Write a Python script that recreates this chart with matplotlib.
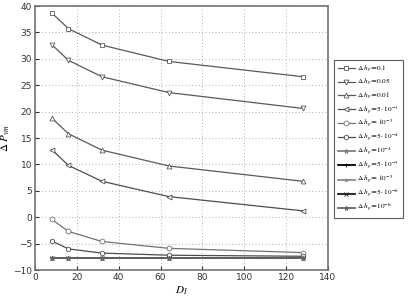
import matplotlib
matplotlib.use("Agg")
import matplotlib.pyplot as plt

D_I = [8, 16, 32, 64, 128]

labels = [
    r"$\Delta\ h_p$=$0.1$",
    r"$\Delta\ h_p$=$0.05$",
    r"$\Delta\ h_p$=$0.01$",
    r"$\Delta\ h_p$=$5{\cdot}\ 10^{-3}$",
    r"$\Delta\ h_p$=$\ 10^{-3}$",
    r"$\Delta\ h_p$=$5{\cdot}\ 10^{-4}$",
    r"$\Delta\ h_p$=$10^{-4}$",
    r"$\Delta\ h_p$=$5{\cdot}\ 10^{-5}$",
    r"$\Delta\ h_p$=$\ 10^{-5}$",
    r"$\Delta\ h_p$=$5{\cdot}\ 10^{-6}$",
    r"$\Delta\ h_p$=$10^{-6}$",
]

dp_01 = [38.7, 35.7, 32.6, 29.5, 26.6]
dp_005 = [32.7, 29.7, 26.6, 23.6, 20.6]
dp_001 = [18.8, 15.8, 12.7, 9.7, 6.8]
dp_5e3 = [12.8, 9.8, 6.8, 3.9, 1.2]
dp_1e3 = [-0.4, -2.7, -4.6, -5.9, -6.7]
dp_5e4 = [-4.5, -6.0, -6.8, -7.2, -7.4]
dp_1e4 = [-7.7, -7.7, -7.7, -7.7, -7.7]
dp_5e5 = [-7.8, -7.8, -7.8, -7.8, -7.8]
dp_1e5 = [-7.8, -7.8, -7.8, -7.8, -7.8]
dp_5e6 = [-7.8, -7.8, -7.8, -7.8, -7.8]
dp_1e6 = [-7.8, -7.8, -7.8, -7.8, -7.8]

series = [dp_01, dp_005, dp_001, dp_5e3, dp_1e3, dp_5e4,
          dp_1e4, dp_5e5, dp_1e5, dp_5e6, dp_1e6]
markers = ["s", "v", "^", "<", "o", "h", "*", "+", ".", "x", "*"]
colors = ["0.35", "0.35", "0.35", "0.3", "0.45", "0.3",
          "0.5", "0.0", "0.55", "0.1", "0.4"]
filled = [False, False, False, False, False, False, True, True, True, True, True]

plt.rcParams["mathtext.fontset"] = "stix"
plt.rcParams["font.family"] = "DejaVu Sans"

fig = plt.figure(figsize=(4.09, 2.97), dpi=100)
ax = fig.add_axes([35 / 409, 27 / 297, 293 / 409, 264 / 297])

for y, m, c, f, lab in zip(series, markers, colors, filled, labels):
    ax.plot(D_I, y, marker=m, color=c, lw=0.9 if not f else 1.3,
            markersize=3.5, markerfacecolor=c if f else "white",
            markeredgecolor=c, markeredgewidth=0.6, label=lab)

ax.set_xlim(0, 140)
ax.set_ylim(-10, 40)
ax.set_xticks(range(0, 141, 20))
ax.set_yticks(range(-10, 41, 5))
ax.grid(True, linestyle=(0, (1, 3)), color="0.6", linewidth=0.6)
ax.tick_params(labelsize=6.5, direction="in", length=3, colors="0.2", pad=2)
for s in ax.spines.values():
    s.set_color("0.45")
    s.set_linewidth(1.2)

ax.set_xlabel(r"$D_I$", fontsize=8)
ax.xaxis.set_label_coords(0.5, -0.055)
ax.set_ylabel(r"$\Delta\ P_{vm}$", fontsize=8)
ax.yaxis.set_label_coords(-0.078, 0.5)

leg = fig.legend(loc="upper left", bbox_to_anchor=(334 / 409, 1 - 60 / 297),
                 fontsize=5.2, frameon=True, fancybox=False,
                 handlelength=2.4, labelspacing=0.3, borderpad=0.5,
                 handletextpad=0.3, borderaxespad=0)
leg.get_frame().set_edgecolor("0.2")
leg.get_frame().set_linewidth(0.8)

fig.savefig("out.png", dpi=100)
